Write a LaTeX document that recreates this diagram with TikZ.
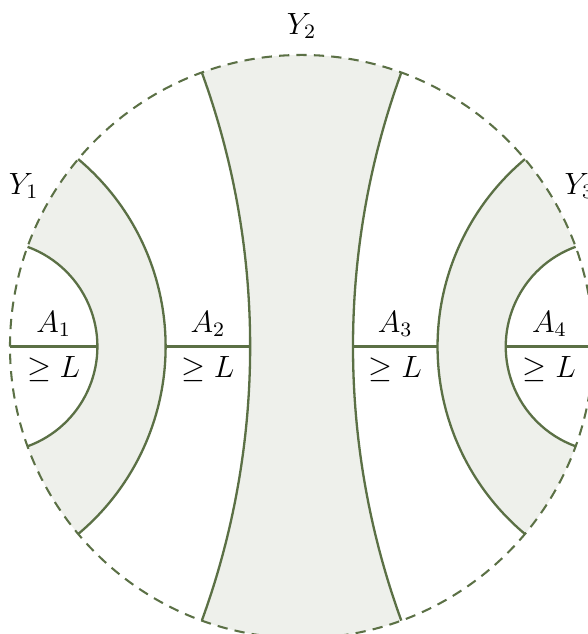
\documentclass[tikz,border=0pt]{standalone}
\usepackage{amsmath}
\usepackage{tikz}
\usetikzlibrary{arrows.meta, positioning}
\definecolor{geoline}{RGB}{91,112,69}
\definecolor{regionfill}{RGB}{238,240,235}

\begin{document}
\begin{tikzpicture}[
  geo/.style={draw=geoline, line width=0.9pt},
  region/.style={fill=regionfill},
  bdry/.style={draw=geoline, line width=0.8pt, dash pattern=on 4pt off 2.8pt},
  lbl/.style={font=\large}
]
\def\R{4}
\useasboundingbox (-4.137,-3.943) rectangle (3.929,4.754);

\fill[region] (220:\R) arc[start angle=-50, end angle=50, radius={\R*tan(40)}]
  arc[start angle=140, end angle=160, radius=\R]
  arc[start angle=70, end angle=-70, radius={\R*tan(20)}]
  arc[start angle=200, end angle=220, radius=\R] -- cycle;
\fill[region] (250:\R) arc[start angle=-20, end angle=20, radius={\R*tan(70)}]
  arc[start angle=110, end angle=70, radius=\R]
  arc[start angle=160, end angle=200, radius={\R*tan(70)}]
  arc[start angle=-70, end angle=-110, radius=\R] -- cycle;
\fill[region] (40:\R) arc[start angle=130, end angle=230, radius={\R*tan(40)}]
  arc[start angle=-40, end angle=-20, radius=\R]
  arc[start angle=250, end angle=110, radius={\R*tan(20)}]
  arc[start angle=20, end angle=40, radius=\R] -- cycle;

\draw[bdry] (0,0) circle[radius=\R];

\draw[geo] (200:\R) arc[start angle=-70, end angle=70, radius={\R*tan(20)}];
\draw[geo] (220:\R) arc[start angle=-50, end angle=50, radius={\R*tan(40)}];
\draw[geo] (250:\R) arc[start angle=-20, end angle=20, radius={\R*tan(70)}];
\draw[geo] (70:\R) arc[start angle=160, end angle=200, radius={\R*tan(70)}];
\draw[geo] (40:\R) arc[start angle=130, end angle=230, radius={\R*tan(40)}];
\draw[geo] (20:\R) arc[start angle=110, end angle=250, radius={\R*tan(20)}];

\coordinate (W) at (-\R,0);
\coordinate (L20) at ({-\R*tan(35)},0);
\coordinate (L40) at ({-\R*tan(25)},0);
\coordinate (L70) at ({-\R*tan(10)},0);
\coordinate (R70) at ({\R*tan(10)},0);
\coordinate (R40) at ({\R*tan(25)},0);
\coordinate (R20) at ({\R*tan(35)},0);
\coordinate (E) at (\R,0);

\draw[geo] (W) -- node[above, lbl]{$A_1$} node[below, lbl]{$\geq L$} (L20);
\draw[geo] (L40) -- node[above, lbl]{$A_2$} node[below, lbl]{$\geq L$} (L70);
\draw[geo] (R70) -- node[above, lbl]{$A_3$} node[below, lbl]{$\geq L$} (R40);
\draw[geo] (R20) -- node[above, lbl]{$A_4$} node[below, lbl]{$\geq L$} (E);

\node[lbl] (Y1) at (150:4.4) {$Y_1$};
\node[lbl] (Y2) at (90:4.4) {$Y_2$};
\node[lbl] (Y3) at (30:4.4) {$Y_3$};
\end{tikzpicture}
\end{document}
